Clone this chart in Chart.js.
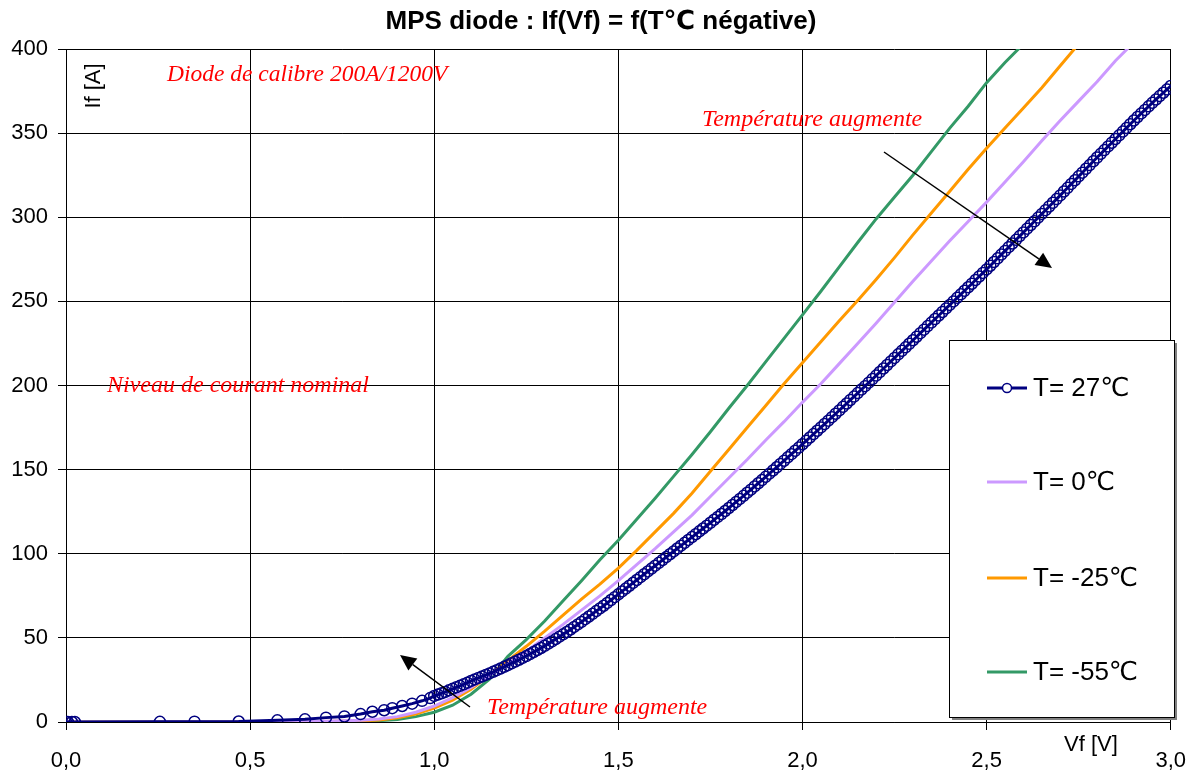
<!DOCTYPE html>
<html>
<head>
<meta charset="utf-8">
<script src="https://cdn.jsdelivr.net/npm/chart.js@4/dist/chart.umd.min.js"></script>
<style>
html, body { margin: 0; padding: 0; background: #fff; }
canvas { display: block; }
</style>
</head>
<body>
<canvas id="chart" width="1204" height="774"></canvas>
<script>
// MPS diode If(Vf) at several temperatures

// T = 27°C : measured points, shown with circle markers
const vf27 = [0.000, 0.005, 0.016, 0.024, 0.255, 0.349, 0.469, 0.574, 0.649, 0.706,
    0.756, 0.800, 0.832, 0.864, 0.886, 0.913, 0.940, 0.967, 0.989,
    1.00, 1.01, 1.02, 1.03, 1.04, 1.05, 1.06, 1.07, 1.08, 1.09,
    1.10, 1.11, 1.12, 1.13, 1.14, 1.15, 1.16, 1.17, 1.18, 1.19,
    1.20, 1.21, 1.22, 1.23, 1.24, 1.25, 1.26, 1.27, 1.28, 1.29,
    1.30, 1.31, 1.32, 1.33, 1.34, 1.35, 1.36, 1.37, 1.38, 1.39,
    1.40, 1.41, 1.42, 1.43, 1.44, 1.45, 1.46, 1.47, 1.48, 1.49,
    1.50, 1.51, 1.52, 1.53, 1.54, 1.55, 1.56, 1.57, 1.58, 1.59,
    1.60, 1.61, 1.62, 1.63, 1.64, 1.65, 1.66, 1.67, 1.68, 1.69,
    1.70, 1.71, 1.72, 1.73, 1.74, 1.75, 1.76, 1.77, 1.78, 1.79,
    1.80, 1.81, 1.82, 1.83, 1.84, 1.85, 1.86, 1.87, 1.88, 1.89,
    1.90, 1.91, 1.92, 1.93, 1.94, 1.95, 1.96, 1.97, 1.98, 1.99,
    2.00, 2.01, 2.02, 2.03, 2.04, 2.05, 2.06, 2.07, 2.08, 2.09,
    2.10, 2.11, 2.12, 2.13, 2.14, 2.15, 2.16, 2.17, 2.18, 2.19,
    2.20, 2.21, 2.22, 2.23, 2.24, 2.25, 2.26, 2.27, 2.28, 2.29,
    2.30, 2.31, 2.32, 2.33, 2.34, 2.35, 2.36, 2.37, 2.38, 2.39,
    2.40, 2.41, 2.42, 2.43, 2.44, 2.45, 2.46, 2.47, 2.48, 2.49,
    2.50, 2.51, 2.52, 2.53, 2.54, 2.55, 2.56, 2.57, 2.58, 2.59,
    2.60, 2.61, 2.62, 2.63, 2.64, 2.65, 2.66, 2.67, 2.68, 2.69,
    2.70, 2.71, 2.72, 2.73, 2.74, 2.75, 2.76, 2.77, 2.78, 2.79,
    2.80, 2.81, 2.82, 2.83, 2.84, 2.85, 2.86, 2.87, 2.88, 2.89,
    2.90, 2.91, 2.92, 2.93, 2.94, 2.95, 2.96, 2.97, 2.98, 2.99,
    3.00];
const if27 = [0.0, 0.0, 0.0, 0.0, 0.1, 0.2, 0.3, 1.0, 1.6, 2.6,
    3.3, 4.7, 6.1, 7.0, 8.2, 9.5, 10.9, 12.6, 14.2,
    15.5, 16.3, 17.1, 17.9, 18.8, 19.7, 20.6, 21.5, 22.4, 23.4,
    24.4, 25.3, 26.2, 27.1, 28.0, 28.9, 29.8, 30.8, 31.8, 32.8,
    33.8, 34.9, 35.9, 37.0, 38.1, 39.2, 40.4, 41.6, 42.8, 44.0,
    45.3, 46.6, 47.9, 49.3, 50.7, 52.1, 53.5, 55.0, 56.5, 58.0,
    59.5, 61.1, 62.7, 64.3, 65.9, 67.5, 69.1, 70.8, 72.5, 74.2,
    75.9, 77.6, 79.3, 81.0, 82.7, 84.4, 86.1, 87.8, 89.5, 91.2,
    92.9, 94.6, 96.3, 98.0, 99.7, 101.4, 103.1, 104.8, 106.5, 108.2,
    109.9, 111.6, 113.3, 115.0, 116.7, 118.4, 120.2, 121.9, 123.6, 125.4,
    127.2, 129.0, 130.8, 132.6, 134.4, 136.3, 138.1, 140.0, 141.9, 143.8,
    145.7, 147.6, 149.5, 151.4, 153.4, 155.3, 157.3, 159.2, 161.2, 163.1,
    165.1, 167.1, 169.1, 171.1, 173.1, 175.1, 177.1, 179.1, 181.2, 183.2,
    185.2, 187.3, 189.3, 191.4, 193.4, 195.5, 197.6, 199.6, 201.7, 203.8,
    205.9, 208.0, 210.1, 212.2, 214.3, 216.4, 218.5, 220.6, 222.7, 224.8,
    226.9, 229.0, 231.1, 233.2, 235.3, 237.4, 239.5, 241.6, 243.7, 245.8,
    247.9, 250.0, 252.1, 254.2, 256.3, 258.4, 260.5, 262.7, 264.8, 266.9,
    269.0, 271.2, 273.4, 275.6, 277.8, 280.0, 282.2, 284.4, 286.6, 288.8,
    291.0, 293.2, 295.4, 297.6, 299.8, 302.0, 304.2, 306.4, 308.6, 310.8,
    313.0, 315.3, 317.5, 319.8, 322.0, 324.3, 326.5, 328.8, 331.0, 333.3,
    335.5, 337.7, 339.9, 342.1, 344.3, 346.5, 348.7, 350.9, 353.1, 355.3,
    357.5, 359.6, 361.7, 363.8, 365.9, 368.0, 370.0, 372.0, 374.0, 376.0,
    378.0];

// T = 0°C
const vf0 = [0, 0.2, 0.4, 0.6, 0.7, 0.8, 0.85, 0.9, 0.95, 1.0, 1.05, 1.1, 1.15,
    1.2, 1.25, 1.3, 1.35, 1.4, 1.45, 1.5, 1.55, 1.6, 1.65, 1.7, 1.75, 1.8, 1.85, 1.9, 1.95,
    2.0, 2.05, 2.1, 2.15, 2.2, 2.25, 2.3, 2.35, 2.4, 2.45, 2.5, 2.55, 2.6, 2.65, 2.7, 2.75,
    2.8, 2.85, 2.9];
const if0 = [0, 0, 0, 0, 0.4, 1.0, 1.8, 3.2, 5.8, 9.5, 14.5, 20.5, 27.5,
    34.8, 42.0, 50.0, 58.0, 66.5, 75.0, 84.0, 93.5, 103.0, 113.0, 123.0, 134.0, 145.0, 156.0, 167.5, 178.5,
    190.0, 201.0, 213.0, 225.0, 237.0, 249.5, 262.0, 274.0, 286.0, 297.5, 309.0, 321.0, 333.0, 345.5, 357.5, 369.0,
    380.5, 393.0, 404.0];

// T = -25°C
const vfM25 = [0, 0.2, 0.4, 0.6, 0.7, 0.8, 0.85, 0.9, 0.95, 1.0, 1.05, 1.1, 1.15,
    1.2, 1.25, 1.3, 1.35, 1.4, 1.45, 1.5, 1.55, 1.6, 1.65, 1.7, 1.75, 1.8, 1.85, 1.9, 1.95,
    2.0, 2.05, 2.1, 2.15, 2.2, 2.25, 2.3, 2.35, 2.4, 2.45, 2.5, 2.55, 2.6, 2.65, 2.7, 2.75];
const ifM25 = [0, 0, 0, 0, 0.3, 0.7, 1.2, 2.5, 4.8, 8.2, 13.0, 19.5, 27.8,
    36.5, 45.0, 54.0, 63.5, 73.0, 82.0, 91.5, 102.0, 113.0, 124.0, 136.0, 149.0, 162.0, 175.0, 188.0, 201.0,
    213.5, 226.0, 238.5, 250.5, 263.0, 276.0, 289.5, 302.5, 315.5, 328.5, 341.0, 353.0, 365.0, 377.0, 390.0, 403.0];

// T = -55°C
const vfM55 = [0, 0.2, 0.4, 0.6, 0.7, 0.8, 0.85, 0.9, 0.95, 1.0, 1.05, 1.1, 1.15, 1.17,
    1.2, 1.25, 1.3, 1.35, 1.4, 1.45, 1.5, 1.55, 1.6, 1.65, 1.7, 1.75, 1.8, 1.85, 1.9, 1.95,
    2.0, 2.05, 2.1, 2.15, 2.2, 2.25, 2.3, 2.35, 2.4, 2.45, 2.5, 2.55, 2.6];
const ifM55 = [0, 0, 0, 0, 0.2, 0.4, 0.8, 1.5, 3.2, 5.8, 10.0, 16.5, 25.5, 31.0,
    39.0, 49.0, 60.0, 72.0, 84.0, 96.5, 108.0, 120.5, 133.0, 146.0, 159.0, 172.5, 186.5, 200.0, 214.0, 228.0,
    242.0, 256.0, 270.5, 285.0, 299.0, 312.0, 325.0, 339.0, 353.0, 366.0, 380.0, 392.0, 403.0];

const seriesLabels = ['T= 27\u2103', 'T= 0\u2103', 'T= -25\u2103', 'T= -55\u2103'];
const seriesColors = ['#000080', '#CC99FF', '#FF9900', '#339966'];

const xTicks = [0, 0.5, 1, 1.5, 2, 2.5, 3];
const yTicks = [0, 50, 100, 150, 200, 250, 300, 350, 400];

const FONT = '"Liberation Sans", Arial, "DejaVu Sans", sans-serif';
const SERIF = '"Liberation Serif", "Times New Roman", serif';

function toPoints(xs, ys) {
    return xs.map((x, i) => ({ x: x, y: ys[i] }));
}

function arrow(ctx, x1, y1, x2, y2) {
    const ang = Math.atan2(y2 - y1, x2 - x1);
    const len = 16, half = 7.5;
    ctx.save();
    ctx.strokeStyle = '#000';
    ctx.fillStyle = '#000';
    ctx.lineWidth = 1.5;
    ctx.beginPath();
    ctx.moveTo(x1, y1);
    ctx.lineTo(x2 - Math.cos(ang) * len, y2 - Math.sin(ang) * len);
    ctx.stroke();
    ctx.beginPath();
    ctx.moveTo(x2, y2);
    ctx.lineTo(x2 - Math.cos(ang) * len - Math.sin(ang) * half, y2 - Math.sin(ang) * len + Math.cos(ang) * half);
    ctx.lineTo(x2 - Math.cos(ang) * len + Math.sin(ang) * half, y2 - Math.sin(ang) * len - Math.cos(ang) * half);
    ctx.closePath();
    ctx.fill();
    ctx.restore();
}

const decor = {
    id: 'decor',
    afterDraw(chart) {
        const ctx = chart.ctx;
        ctx.save();

        // title
        ctx.fillStyle = '#000';
        ctx.font = 'bold 26px ' + FONT;
        ctx.textAlign = 'center';
        ctx.textBaseline = 'middle';
        ctx.fillText('MPS diode : If(Vf) = f(T\u2103 n\u00e9gative)', 601, 22);

        // axis titles
        ctx.font = '22px ' + FONT;
        ctx.textAlign = 'left';
        ctx.fillText('Vf [V]', 1064, 745);
        ctx.save();
        ctx.translate(94, 86);
        ctx.rotate(-Math.PI / 2);
        ctx.textAlign = 'center';
        ctx.fillText('If [A]', 0, 0);
        ctx.restore();

        // red notes
        ctx.fillStyle = '#FF0000';
        ctx.textAlign = 'left';
        ctx.font = 'italic 23.5px ' + SERIF;
        ctx.fillText('Diode de calibre 200A/1200V', 167, 75);
        ctx.font = 'italic 24px ' + SERIF;
        ctx.fillText('Niveau de courant nominal', 107, 386);
        ctx.fillText('Temp\u00e9rature augmente', 702, 120);
        ctx.fillText('Temp\u00e9rature augmente', 487, 708);

        arrow(ctx, 884, 152, 1052, 268);
        arrow(ctx, 470, 707, 400, 655);

        // legend box
        const lx = 949, ly = 340, lw = 225, lh = 377;
        ctx.fillStyle = '#808080';
        ctx.fillRect(lx + 3, ly + 3, lw, lh);
        ctx.fillStyle = '#fff';
        ctx.fillRect(lx, ly, lw, lh);
        ctx.strokeStyle = '#000';
        ctx.lineWidth = 1;
        ctx.strokeRect(lx + 0.5, ly + 0.5, lw, lh);

        const rows = [388, 482, 578, 672];
        ctx.font = '26px ' + FONT;
        ctx.textBaseline = 'middle';
        chart.data.datasets.forEach((ds, i) => {
            const y = rows[i];
            ctx.strokeStyle = ds.borderColor;
            ctx.lineWidth = 3;
            ctx.beginPath();
            ctx.moveTo(987, y);
            ctx.lineTo(1027, y);
            ctx.stroke();
            if (ds.pointRadius > 0) {
                ctx.lineWidth = 1.5;
                ctx.beginPath();
                ctx.arc(1007, y, 4.5, 0, Math.PI * 2);
                ctx.fillStyle = '#fff';
                ctx.fill();
                ctx.stroke();
            }
            ctx.fillStyle = '#000';
            ctx.fillText(ds.label, 1033, y + 1);
        });

        ctx.restore();
    }
};

const datasets = [
    {
        label: seriesLabels[0],
        data: toPoints(vf27, if27),
        borderColor: seriesColors[0],
        borderWidth: 3,
        pointRadius: 5.5,
        pointBorderWidth: 1.5,
        pointBorderColor: seriesColors[0],
        pointBackgroundColor: 'rgba(0,0,0,0)',
    },
    {
        label: seriesLabels[1],
        data: toPoints(vf0, if0),
        borderColor: seriesColors[1],
        borderWidth: 3,
        pointRadius: 0,
    },
    {
        label: seriesLabels[2],
        data: toPoints(vfM25, ifM25),
        borderColor: seriesColors[2],
        borderWidth: 3,
        pointRadius: 0,
    },
    {
        label: seriesLabels[3],
        data: toPoints(vfM55, ifM55),
        borderColor: seriesColors[3],
        borderWidth: 3,
        pointRadius: 0,
    },
];

new Chart(document.getElementById('chart').getContext('2d'), {
    type: 'line',
    data: { datasets: datasets },
    options: {
        responsive: false,
        animation: false,
        events: [],
        layout: { padding: { top: 49, right: 24, left: 0, bottom: 0 } },
        elements: { line: { tension: 0 } },
        plugins: {
            legend: { display: false },
            tooltip: { enabled: false },
        },
        scales: {
            x: {
                type: 'linear',
                min: 0,
                max: 3,
                afterBuildTicks: (scale) => { scale.ticks = xTicks.map(v => ({ value: v })); },
                afterFit: (scale) => { scale.height = 52; },
                ticks: {
                    color: '#000',
                    font: { family: FONT, size: 22 },
                    padding: 18,
                    maxRotation: 0,
                    autoSkip: false,
                    callback: (v) => Number(v).toFixed(1).replace('.', ','),
                },
                grid: { color: '#000', lineWidth: 1, tickLength: 8 },
                border: { color: '#000' },
            },
            y: {
                min: 0,
                max: 400,
                afterBuildTicks: (scale) => { scale.ticks = yTicks.map(v => ({ value: v })); },
                afterFit: (scale) => { scale.width = 66; },
                ticks: {
                    color: '#000',
                    font: { family: FONT, size: 22 },
                    padding: 10,
                    autoSkip: false,
                },
                grid: { color: '#000', lineWidth: 1, tickLength: 8 },
                border: { color: '#000' },
            },
        },
    },
    plugins: [decor],
});
</script>
</body>
</html>
